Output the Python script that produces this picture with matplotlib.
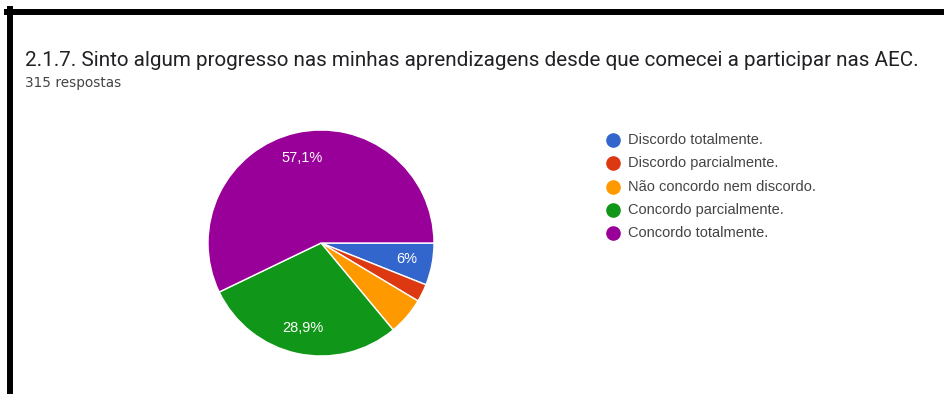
import matplotlib
matplotlib.use("Agg")
import matplotlib.pyplot as plt
from matplotlib.lines import Line2D

title = "2.1.7. Sinto algum progresso nas minhas aprendizagens desde que comecei a participar nas AEC."
subtitle = "315 respostas"
categories = ["Discordo totalmente.", "Discordo parcialmente.", "Não concordo nem discordo.",
              "Concordo parcialmente.", "Concordo totalmente."]
counts = [19, 8, 17, 91, 180]
pct_labels = ["6%", "", "", "28,9%", "57,1%"]
colors = ["#3366cc", "#dc3912", "#ff9900", "#109618", "#990099"]

W, H = 944, 394
fig = plt.figure(figsize=(W / 100, H / 100), dpi=100)
fig.patch.set_facecolor("white")

def fx(x):
    return x / W

def fy(y):
    return 1 - y / H

# frame lines (top and left)
fig.add_artist(Line2D([fx(7), fx(944)], [fy(12), fy(12)], color="black", lw=4.3, transform=fig.transFigure))
fig.add_artist(Line2D([fx(9.5), fx(9.5)], [fy(9), fy(394)], color="black", lw=4.3, transform=fig.transFigure))

fig.text(fx(25), fy(66), title, fontsize=14.9, family="Roboto", color="#202124", va="baseline", ha="left")
fig.text(fx(25), fy(87), subtitle, fontsize=9.8, family="DejaVu Sans", color="#444444", va="baseline", ha="left")

cx, cy, r = 321, 243, 113
ax = fig.add_axes([fx(cx - r), fy(cy + r), 2 * r / W, 2 * r / H])
wedges, texts = ax.pie(counts, colors=colors, startangle=0, counterclock=False,
                       labels=pct_labels, labeldistance=0.77,
                       wedgeprops=dict(edgecolor="white", linewidth=1.0),
                       textprops=dict(color="white", fontsize=10.5, family="Liberation Sans"))
for t in texts:
    t.set_ha("center")
    t.set_va("center")
ax.set_xlim(-1, 1)
ax.set_ylim(-1, 1)
ax.set_aspect("equal")
ax.axis("off")

# legend
y0, dy = 140, 23.3
for i, (lab, col) in enumerate(zip(categories, colors)):
    y = y0 + i * dy
    fig.add_artist(Line2D([fx(613)], [fy(y)], marker="o", markersize=9.5, color=col,
                          linestyle="none", transform=fig.transFigure))
    fig.text(fx(628), fy(y), lab, fontsize=10.5, family="Liberation Sans", color="#444444",
             va="center", ha="left")

fig.savefig("out.png", dpi=100)
